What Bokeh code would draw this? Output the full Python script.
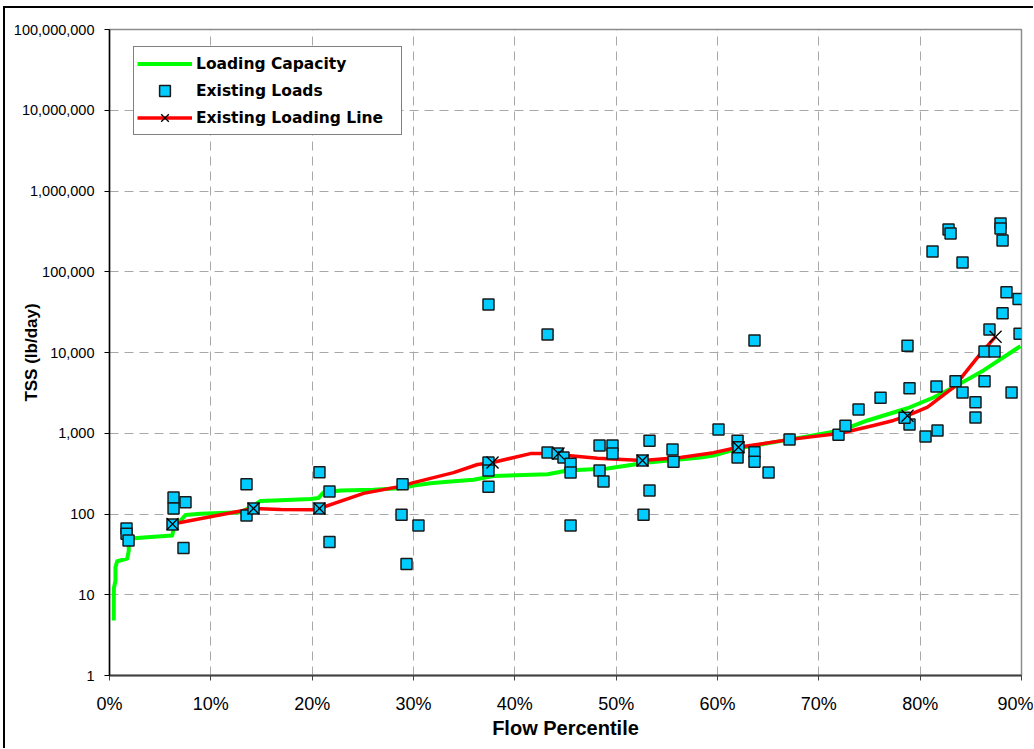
from bokeh.embed import file_html
from bokeh.models import (FixedTicker, Legend, LegendItem,
                          NumeralTickFormatter, Range1d, Title)
from bokeh.plotting import figure
from bokeh.resources import INLINE

# Loading capacity curve (flow percentile as a fraction, TSS in lb/day)
capacity_pct = [0.0042, 0.0043, 0.0059, 0.0059, 0.0076, 0.0175, 0.0190, 0.0190,
                0.0240, 0.0405, 0.0619, 0.0629, 0.0635, 0.0701, 0.0750, 0.0898,
                0.1293, 0.1424, 0.1490, 0.1688, 0.1984, 0.2063, 0.2112, 0.2280,
                0.2605, 0.2901, 0.3000, 0.3168, 0.3336, 0.3592, 0.3790, 0.4323,
                0.4520, 0.4915, 0.5309, 0.5832, 0.5961, 0.6207, 0.6721, 0.7214,
                0.7480, 0.7875, 0.8132, 0.8329, 0.8625, 0.8990]
capacity_tss = [4.8, 12, 15, 22, 26, 28, 35, 47,
                50, 52, 54, 63, 76, 83, 97, 101,
                105, 127, 145, 148, 153, 158, 185, 195,
                200, 210, 225, 240, 250, 265, 295, 310,
                345, 365, 435, 500, 530, 650, 840, 1080,
                1440, 2040, 2770, 3700, 6000, 12000]

# Observed loads
load_pct = [0.0168, 0.0168, 0.0188, 0.0632, 0.0632, 0.0622, 0.0750, 0.0730,
            0.1352, 0.1352, 0.1421, 0.2072, 0.2171, 0.2171, 0.2072, 0.2892,
            0.2882, 0.3049, 0.2931, 0.3740, 0.4323, 0.6010, 0.3740, 0.3740,
            0.3740, 0.4323, 0.4421, 0.4480, 0.4550, 0.4550, 0.4550, 0.4836,
            0.4964, 0.4964, 0.4836, 0.4875, 0.5270, 0.5329, 0.5329, 0.5260,
            0.5556, 0.5566, 0.6198, 0.6198, 0.6207, 0.6365, 0.6365, 0.6365,
            0.6504, 0.6711, 0.7194, 0.7263, 0.7392, 0.7609, 0.7875, 0.7895,
            0.7895, 0.7846, 0.8053, 0.8171, 0.8161, 0.8349, 0.8418, 0.8546,
            0.8546, 0.8635, 0.8635, 0.8734, 0.8684, 0.8813, 0.8852, 0.8971,
            0.8981, 0.8902, 0.8122, 0.8280, 0.8300, 0.8418, 0.8793, 0.8793,
            0.8813]
load_tss = [66, 57, 47, 160, 117, 74, 140, 38,
            233, 96, 117, 328, 190, 45, 117, 233,
            98, 72, 24, 39300, 16700, 1110, 434, 346,
            218, 578, 560, 500, 420, 326, 72, 705,
            705, 560, 346, 252, 98, 195, 810, 460,
            630, 445, 810, 500, 670, 14100, 580, 445,
            327, 835, 960, 1240, 1970, 2760, 12100, 3600,
            1280, 1560, 910, 1080, 3800, 4400, 3200, 2420,
            1570, 4400, 10300, 10300, 19200, 30600, 55800, 45900,
            17100, 3200, 178000, 334000, 298000, 130000, 396000, 344000,
            244000]

# Existing loading line (smoothed trace) and its marked points
line_pct = [0.0622, 0.1421, 0.1688, 0.2013, 0.2072, 0.2507, 0.2872, 0.3000,
            0.3395, 0.3632, 0.3780, 0.4155, 0.4431, 0.4520, 0.4816, 0.5112,
            0.5260, 0.5635, 0.5961, 0.6207, 0.6721, 0.7214, 0.7540, 0.7737,
            0.7875, 0.8073, 0.8329, 0.8596, 0.8744]
line_tss = [75, 117, 114, 113, 117, 180, 220, 245,
            325, 410, 434, 560, 560, 530, 490, 470,
            460, 500, 575, 670, 840, 1000, 1250, 1440,
            1650, 2100, 3700, 9700, 15700]
marker_pct = [0.0622, 0.1421, 0.2072, 0.3780, 0.4431, 0.5260, 0.6207, 0.7875, 0.8744]
marker_tss = [75, 117, 117, 434, 560, 460, 670, 1650, 15700]

x_ticks = [0.0, 0.1, 0.2, 0.3, 0.4, 0.5, 0.6, 0.7, 0.8, 0.9]
y_ticks = [1, 10, 100, 1000, 10000, 100000, 1000000, 10000000, 100000000]

FONT = "Liberation Sans"

p = figure(width=1030, height=742, output_backend="svg", toolbar_location=None,
           x_range=Range1d(0, 0.9), y_range=Range1d(1, 1e8), y_axis_type="log",
           min_border_left=104, min_border_right=14, min_border_top=21,
           min_border_bottom=75,
           styles={"margin-left": "3px", "margin-top": "6px",
                   "border-left": "2px solid #000", "border-top": "2px solid #000"})
p.background_fill_color = "white"
p.border_fill_color = "white"
p.outline_line_color = "#8c8c8c"
p.outline_line_width = 1.5

# axes
p.xaxis.ticker = FixedTicker(ticks=x_ticks, minor_ticks=[])
p.xaxis.formatter = NumeralTickFormatter(format="0%")
p.yaxis.ticker = FixedTicker(ticks=y_ticks, minor_ticks=[])
p.yaxis.formatter = NumeralTickFormatter(format="0,0")

p.xaxis.axis_label = "Flow Percentile"
p.xaxis.axis_label_text_font = FONT
p.xaxis.axis_label_text_font_style = "bold"
p.xaxis.axis_label_text_font_size = "20px"
p.xaxis.axis_label_text_color = "black"
p.xaxis.axis_label_standoff = 0
p.xaxis.major_label_text_font = FONT
p.xaxis.major_label_text_font_size = "18px"
p.xaxis.major_label_text_color = "black"
p.xaxis.major_label_standoff = 13
p.xaxis.axis_line_color = "#404040"
p.xaxis.axis_line_width = 2
p.xaxis.major_tick_line_color = "#404040"
p.xaxis.major_tick_out = 5
p.xaxis.major_tick_in = 0

p.yaxis.major_label_text_font = FONT
p.yaxis.major_label_text_font_size = "14.5px"
p.yaxis.major_label_text_color = "black"
p.yaxis.major_label_standoff = 10
p.yaxis.axis_line_color = "black"
p.yaxis.axis_line_width = 1.5
p.yaxis.major_tick_line_color = "black"
p.yaxis.major_tick_out = 5
p.yaxis.major_tick_in = 0

# dashed grid
for g in (p.xgrid, p.ygrid):
    g.grid_line_color = "#a8a8a8"
    g.grid_line_dash = "9 6"
    g.grid_line_width = 1
p.xgrid.ticker = FixedTicker(ticks=x_ticks, minor_ticks=[])
p.ygrid.ticker = FixedTicker(ticks=y_ticks, minor_ticks=[])

# series
cap = p.line(capacity_pct, capacity_tss, line_color="#00ff00", line_width=4,
             line_join="round")
trace = p.line(line_pct, line_tss, line_color="#ff0000", line_width=3.5,
               line_join="round")
loads = p.scatter(load_pct, load_tss, marker="square", size=11,
                  fill_color="#00ccff", line_color="#1a1a1a", line_width=1.5)
marks = p.scatter(marker_pct, marker_tss, marker="x", size=17,
                  line_color="black", line_width=1.3)

legend = Legend(items=[
    LegendItem(label="Loading Capacity", renderers=[cap]),
    LegendItem(label="Existing Loads", renderers=[loads]),
    LegendItem(label="Existing Loading Line", renderers=[trace, marks]),
], location=(24, 540))
legend.label_text_font = "DejaVu Sans"
legend.label_text_font_style = "bold"
legend.label_text_font_size = "15.5px"
legend.label_text_color = "black"
legend.border_line_color = "black"
legend.border_line_width = 1
legend.background_fill_color = "white"
legend.background_fill_alpha = 1
legend.padding = 3
legend.spacing = 0
legend.margin = 0
legend.glyph_width = 55
legend.glyph_height = 27
legend.label_height = 27
legend.label_standoff = 4
legend.label_width = 202
p.add_layout(legend)

# vertical axis title, tucked in beside the tick labels
p.add_layout(Title(text="TSS (lb/day)", align="center", offset=22, standoff=-60,
                   text_font=FONT, text_font_style="bold",
                   text_font_size="17px", text_color="black"), "left")

open("out.html", "w").write(file_html(p, INLINE))
